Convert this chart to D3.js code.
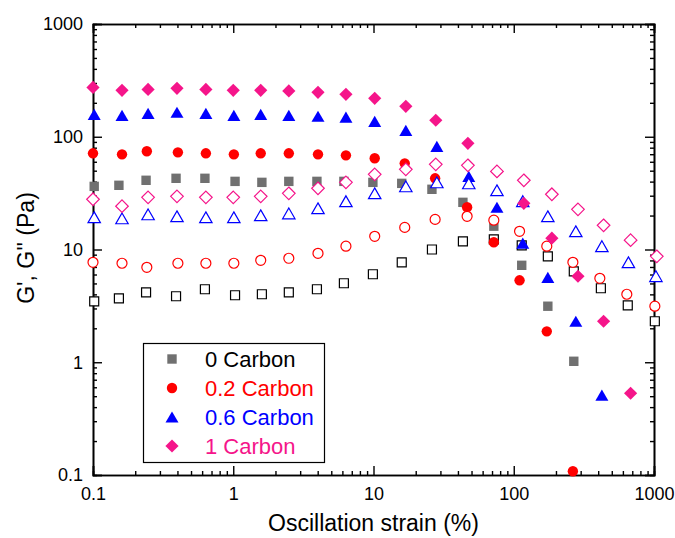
<!DOCTYPE html>
<html>
<head>
<meta charset="utf-8">
<script src="https://cdn.jsdelivr.net/npm/d3@7"></script>
<style>
  html, body { margin: 0; padding: 0; background: #fff; }
  svg { display: block; font-family: Arial, "Liberation Sans", sans-serif; }
</style>
</head>
<body>
<svg id="chart" width="675" height="538"></svg>
<script>
// ---- data ----
const seriesNames = ["0 Carbon", "0.2 Carbon", "0.6 Carbon", "1 Carbon"];
const seriesColors = ["#707070", "#ff0000", "#0000ff", "#f5158a"];
const openColors = ["#000000", "#ff0000", "#0000ff", "#f5158a"];
const seriesShapes = ["square", "circle", "triangle", "diamond"];

const strain0 = [0.102,0.153,0.239,0.391,0.628,1.03,1.6,2.49,3.95,6.15,9.9,15.9,26.1,43.4,72.1,114,175,268,418,650,1014];
const gPrime0 = [36.3,37.1,41.1,42.8,42.8,40.2,39.4,40.2,40.2,40.2,39.4,38.6,34.2,26.2,16.1,7.24,3.14,1.02];
const gDouble0 = [3.47,3.69,4.17,3.85,4.44,3.93,4.01,4.17,4.44,5.02,6.03,7.7,10.0,11.8,12.3,10.9,8.7,6.41,4.53,3.2,2.31];

const strain02 = [0.1,0.161,0.242,0.403,0.638,1.01,1.57,2.49,4.02,6.36,10.2,16.7,27.5,46.5,72.1,110,172,264,411,640,1014];
const gPrime02 = [71.3,69.8,74.3,72.7,71.3,69.8,71.3,71.3,69.8,68.4,64.4,58.1,42.8,23.7,11.6,5.33,1.88,0.108];
const gDouble02 = [7.7,7.55,6.95,7.55,7.55,7.55,8.02,8.36,9.25,10.7,13.1,15.7,18.5,19.7,18.2,14.5,10.7,7.7,5.55,4.01,3.14];

const strain06 = [0.102,0.161,0.247,0.397,0.638,1.01,1.57,2.49,4.02,6.36,10.2,17.0,28.3,47.8,75.9,116,175,277,425,657,1032];
const gPrime06 = [158,155,161,165,161,155,158,155,152,149,137,114,82,44.6,23.7,11.4,5.67,2.31,0.51];
const gDouble06 = [19.3,18.9,20.5,19.7,19.3,19.3,20.1,20.9,23.2,26.8,31.5,36.3,39.4,38.6,33.5,26.8,19.7,14.5,10.7,7.7,5.8];

const strain1 = [0.1,0.161,0.247,0.397,0.638,1.0,1.57,2.49,4.02,6.36,10.2,17.0,27.8,47.1,75.9,118,187,287,437,681,1047];
const gPrime1 = [274,258,263,269,263,258,258,255,248,238,219,186,140,87.4,49.3,25.7,12.6,5.79,2.31,0.531];
const gDouble1 = [27.9,24.2,29.0,29.6,29.0,29.0,29.6,31.5,34.9,39.4,46.4,51.4,56.9,55.8,49.3,41.1,30.9,22.7,16.4,12.1,8.7];

const majorTicks = [0.1, 1, 10, 100, 1000];
const tickLabels = ["0.1", "1", "10", "100", "1000"];
const xTitle = "Oscillation strain (%)";
const yTitle = "G', G'' (Pa)";

const strains = [strain0, strain02, strain06, strain1];
const gPrimes = [gPrime0, gPrime02, gPrime06, gPrime1];
const gDoubles = [gDouble0, gDouble02, gDouble06, gDouble1];

// ---- layout ----
const W = 675, H = 538;
const margin = { left: 93, top: 24, right: 21, bottom: 63 };
const svg = d3.select("#chart");

const x = d3.scaleLog().domain([0.1, 1000]).range([margin.left, W - margin.right]);
const y = d3.scaleLog().domain([0.1, 1000]).range([H - margin.bottom, margin.top]);

const minorTicks = [];
for (let e = -1; e < 3; e++) for (let m = 2; m <= 9; m++) minorTicks.push(m * Math.pow(10, e));

const fmt = d => tickLabels[majorTicks.indexOf(d)] || "";

function styleAxis(g) {
  g.select(".domain").attr("stroke", "#000").attr("stroke-width", 1.6);
  g.selectAll(".tick line").attr("stroke", "#000").attr("stroke-width", 1.4);
  g.selectAll(".tick text").attr("font-size", 18).attr("fill", "#000")
    .attr("font-family", "Arial, 'Liberation Sans', sans-serif");
}

// bottom
svg.append("g").attr("transform", `translate(0,${y(0.1)})`)
  .call(d3.axisBottom(x).tickValues(minorTicks).tickSize(-4).tickFormat("")).call(styleAxis);
svg.append("g").attr("transform", `translate(0,${y(0.1)})`)
  .call(d3.axisBottom(x).tickValues(majorTicks).tickSize(-9).tickPadding(12).tickFormat(fmt)).call(styleAxis);
// top
svg.append("g").attr("transform", `translate(0,${y(1000)})`)
  .call(d3.axisTop(x).tickValues(minorTicks).tickSize(-4).tickFormat("")).call(styleAxis);
svg.append("g").attr("transform", `translate(0,${y(1000)})`)
  .call(d3.axisTop(x).tickValues(majorTicks).tickSize(-9).tickFormat("")).call(styleAxis);
// left
svg.append("g").attr("transform", `translate(${x(0.1)},0)`)
  .call(d3.axisLeft(y).tickValues(minorTicks).tickSize(-4).tickFormat("")).call(styleAxis);
svg.append("g").attr("transform", `translate(${x(0.1)},0)`)
  .call(d3.axisLeft(y).tickValues(majorTicks).tickSize(-9).tickPadding(10).tickFormat(fmt)).call(styleAxis);
// right
svg.append("g").attr("transform", `translate(${x(1000)},0)`)
  .call(d3.axisRight(y).tickValues(minorTicks).tickSize(-4).tickFormat("")).call(styleAxis);
svg.append("g").attr("transform", `translate(${x(1000)},0)`)
  .call(d3.axisRight(y).tickValues(majorTicks).tickSize(-9).tickFormat("")).call(styleAxis);

// ---- markers ----
function shapePath(shape) {
  switch (shape) {
    case "square": { const s = 4.7; return `M${-s},${-s}H${s}V${s}H${-s}Z`; }
    case "circle": { const r = 5.2; return `M${r},0A${r},${r} 0 1,1 ${-r},0A${r},${r} 0 1,1 ${r},0Z`; }
    case "triangle": { const w = 6.5, h = 5.6; return `M0,${-h}L${w},${h}L${-w},${h}Z`; }
    case "diamond": { const d = 6.6; return `M0,${-d}L${d},0L0,${d}L${-d},0Z`; }
  }
}
function openPath(shape) {
  switch (shape) {
    case "square": { const s = 4.5; return `M${-s},${-s}H${s}V${s}H${-s}Z`; }
    case "circle": { const r = 5.0; return `M${r},0A${r},${r} 0 1,1 ${-r},0A${r},${r} 0 1,1 ${r},0Z`; }
    case "triangle": { const w = 6.2, h = 5.4; return `M0,${-h}L${w},${h}L${-w},${h}Z`; }
    case "diamond": { const d = 6.3; return `M0,${-d}L${d},0L0,${d}L${-d},0Z`; }
  }
}

const plot = svg.append("g");
seriesNames.forEach((name, i) => {
  const xs = strains[i];
  const filled = gPrimes[i].map((v, k) => ({ x: xs[k], y: v }));
  const open = gDoubles[i].map((v, k) => ({ x: xs[k], y: v }));
  plot.append("g").selectAll("path").data(filled).join("path")
    .attr("d", shapePath(seriesShapes[i]))
    .attr("transform", d => `translate(${x(d.x)},${y(d.y)})`)
    .attr("fill", seriesColors[i]);
  plot.append("g").selectAll("path").data(open).join("path")
    .attr("d", openPath(seriesShapes[i]))
    .attr("transform", d => `translate(${x(d.x)},${y(d.y)})`)
    .attr("fill", "#fff").attr("stroke", openColors[i]).attr("stroke-width", 1.2);
});

// ---- legend ----
const leg = svg.append("g");
leg.append("rect").attr("x", 143.5).attr("y", 343.5).attr("width", 181).attr("height", 119)
  .attr("fill", "#fff").attr("stroke", "#000").attr("stroke-width", 1.2);
const rowY = [359, 388, 417, 446];
const legText = ["#000000", "#ff0000", "#0000ff", "#f5158a"];
seriesNames.forEach((name, i) => {
  leg.append("path").attr("d", shapePath(seriesShapes[i]))
    .attr("transform", `translate(172,${rowY[i]})`).attr("fill", seriesColors[i]);
  leg.append("text").attr("x", 205).attr("y", rowY[i] + 8)
    .attr("font-size", 22).attr("fill", legText[i]).text(name);
});

// ---- titles ----
svg.append("text").attr("x", (x(0.1) + x(1000)) / 2).attr("y", 531)
  .attr("text-anchor", "middle").attr("font-size", 23).attr("fill", "#000").text(xTitle);
svg.append("text").attr("transform", "translate(34,248) rotate(-90)")
  .attr("text-anchor", "middle").attr("font-size", 23).attr("fill", "#000").text(yTitle);
</script>
</body>
</html>
